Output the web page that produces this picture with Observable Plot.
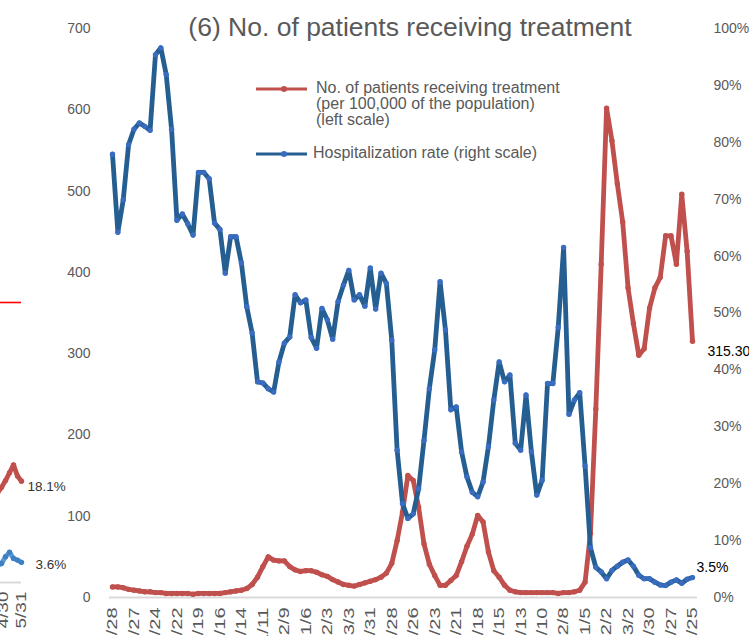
<!DOCTYPE html>
<html><head><meta charset="utf-8">
<script src="https://cdn.jsdelivr.net/npm/d3@7"></script>
<script src="https://cdn.jsdelivr.net/npm/@observablehq/plot@0.6"></script>
<style>
html,body{margin:0;padding:0;background:#fff;overflow:hidden;}
#wrap{position:relative;width:749px;height:636px;overflow:hidden;font-family:"Liberation Sans",Arial,sans-serif;color:#595959;}
#wrap svg.plotsvg{position:absolute;left:0;top:0;}
.ttl{position:absolute;left:0;width:820px;top:12px;text-align:center;font-size:26.5px;line-height:30px;white-space:nowrap;}
.lg{position:absolute;font-size:16px;line-height:16px;white-space:nowrap;}
</style></head><body><div id="wrap"></div>
<script>
// ---- main chart data (weekly) ----
const tickLabels = ["4/28","5/27","6/24","7/22","8/19","9/16","10/14","11/11","12/9","1/6","2/3","3/3","3/31","4/28","5/26","6/23","7/21","8/18","9/15","10/13","11/10","12/8","1/5","2/2","3/2","3/30","4/27","5/25"];
const patients = [13,13,12,10,9,8,7,7,6,6,5,5,5,5,5,4,5,5,5,5,5,6,7,8,9,11,16,25,38,50,
  46,45,45,38,34,32,33,33,31,28,26,22,19,16,15,14,16,18,20,22,25,30,42,70,105,150,144,111,66,41,
  27,15,15,21,27,44,63,78,101,93,56,33,25,15,9,7,6,6,6,6,6,6,6,5,6,6,7,9,19,79,
  232,410,602,562,509,462,381,337,298,306,356,381,394,445,445,410,496,426,315.30];
const hospRate = [77.9,64.2,69.9,79.6,82.3,83.4,82.8,82.1,95.4,96.6,91.9,82.3,66.3,67.4,65.7,63.7,74.7,74.7,73.6,65.8,
  64.7,57.0,63.4,63.4,58.8,51.1,46.5,37.9,37.7,36.7,36.1,41.4,44.7,45.8,53.2,51.8,52.3,45.7,43.8,50.8,
  48.8,45.4,52.0,54.9,57.5,52.3,53.2,51.2,57.9,50.7,57.0,55.2,45.2,25.9,16.5,13.9,14.7,19.1,27.6,36.7,
  43.5,55.5,47.0,33.0,33.5,25.6,21.2,18.5,17.7,20.3,26.5,34.7,41.4,37.9,39.1,27.1,25.9,35.6,25.6,18.0,
  20.6,37.6,37.6,47.5,61.5,32.2,34.7,36.0,23.1,8.75,5.3,4.5,3.3,4.75,5.5,6.2,6.6,5.5,3.9,3.3,
  3.3,2.7,2.2,2.1,2.7,3.1,2.5,3.2,3.5];
const leftTicks = [0,100,200,300,400,500,600,700];
const rightTicks = [0,10,20,30,40,50,60,70,80,90,100];

// ---- fragment of the neighbouring panel (left edge) ----
const fragDates = ["2022-04-19","2022-04-26","2022-05-03","2022-05-10","2022-05-17","2022-05-24","2022-05-31"];
const fragRed = [16.0,17.0,18.2,19.6,21.0,19.0,18.1];
const fragBlue = [3.0,3.4,4.6,5.4,4.3,4.0,3.6];
const fragLine = [50];
const fragTicks = ["2022-04-30","2022-05-31"];

const RED = "#c0504d", BLUE = "#255e91", BLUEDOT = "#3a6cc2";
const FONT = '"Liberation Sans",Arial,sans-serif';

const rows = patients.map((p, i) => ({i, red: p, blue: hospRate[i]}));
const last = rows.slice(-1);
const scaleR = 700 / 100; // right axis 0–100% shares the 0–700 frame

const main = Plot.plot({
  width: 749, height: 636,
  marginLeft: 112, marginRight: 57, marginTop: 28, marginBottom: 39,
  style: {background: "transparent", fontFamily: FONT, fontSize: "14px", color: "#595959", overflow: "hidden"},
  x: {domain: [0, patients.length - 1]},
  y: {domain: [0, 700]},
  marks: [
    Plot.ruleY([0], {stroke: "#d9d9d9", strokeWidth: 2, insetLeft: -3, insetRight: -5}),
    Plot.axisY(leftTicks, {anchor: "left", tickSize: 0, tickPadding: 22, fill: "#595959", fontSize: 14, label: null}),
    Plot.axisY(rightTicks.map(t => t * scaleR), {anchor: "right", tickSize: 0, tickPadding: 21, fill: "#595959", fontSize: 14, label: null,
      tickFormat: d => `${Math.round(d / scaleR)}%`}),
    Plot.axisX(tickLabels.map((t, k) => k * 4), {anchor: "bottom", tickSize: 0, tickPadding: 10, tickRotate: -90, fill: "#595959", fontSize: 20, label: null,
      tickFormat: d => tickLabels[Math.round(d / 4)]}),
    Plot.line(rows, {x: "i", y: "red", stroke: RED, strokeWidth: 4.8}),
    Plot.dot(rows, {x: "i", y: "red", r: 2.7, fill: RED}),
    Plot.line(rows, {x: "i", y: d => d.blue * scaleR, stroke: BLUE, strokeWidth: 4.8}),
    Plot.dot(rows, {x: "i", y: d => d.blue * scaleR, r: 2.7, fill: BLUEDOT}),
    Plot.text(last, {x: "i", y: "red", text: d => d.red.toFixed(2), dx: 15, dy: 10, textAnchor: "start", fill: "#000", fontSize: 14}),
    Plot.text(last, {x: "i", y: d => d.blue * scaleR, text: d => d.blue.toFixed(1) + "%", dx: 4, dy: -10, textAnchor: "start", fill: "#000", fontSize: 14})
  ]
});
main.classList.add("plotsvg");

const fragRows = fragDates.map((d, k) => ({date: new Date(d), red: fragRed[k], blue: fragBlue[k]}));
const fragLast = fragRows.slice(-1);
const frag = Plot.plot({
  width: 70, height: 636, marginLeft: 0, marginRight: 49, marginTop: 22, marginBottom: 54,
  style: {background: "transparent", fontFamily: FONT, fontSize: "14px", color: "#595959", overflow: "hidden"},
  x: {type: "utc", domain: [new Date("2022-04-30"), new Date("2022-05-31")], range: [3.3, 21]},
  y: {domain: [0, 100], range: [582, 22]},
  marks: [
    Plot.ruleY([0], {stroke: "#d9d9d9", strokeWidth: 2}),
    Plot.ruleY(fragLine, {stroke: "#ff0000", strokeWidth: 1.6}),
    Plot.axisX(fragTicks.map(d => new Date(d)), {anchor: "bottom", tickSize: 0, tickPadding: 9, tickRotate: -90, fill: "#595959", fontSize: 19, label: null,
      tickFormat: d3.utcFormat("%-m/%-d")}),
    Plot.line(fragRows, {x: "date", y: "red", stroke: RED, strokeWidth: 4.8}),
    Plot.dot(fragRows, {x: "date", y: "red", r: 2.7, fill: RED}),
    Plot.line(fragRows, {x: "date", y: "blue", stroke: "#5b9bd5", strokeWidth: 4.8}),
    Plot.dot(fragRows, {x: "date", y: "blue", r: 2.7, fill: "#3f7fc4"}),
    Plot.text(fragLast, {x: "date", y: "red", text: d => d.red.toFixed(1) + "%", dx: 6, dy: 6, textAnchor: "start", fill: "#333", fontSize: 13.5}),
    Plot.text(fragLast, {x: "date", y: "blue", text: d => d.blue.toFixed(1) + "%", dx: 14, dy: 2, textAnchor: "start", fill: "#333", fontSize: 13.5})
  ]
});
frag.classList.add("plotsvg");

// narrow the rotated date labels (condensed look of the original font)
for (const svg of [main, frag]) {
  svg.querySelectorAll("text").forEach(el => {
    const tr = el.getAttribute("transform");
    if (tr && tr.includes("rotate(-90)")) el.setAttribute("transform", tr + " scale(1,0.76)");
  });
}

const wrap = document.getElementById("wrap");
wrap.appendChild(frag);
wrap.appendChild(main);

// title
const t = document.createElement("div");
t.className = "ttl";
t.textContent = "(6) No. of patients receiving treatment";
wrap.appendChild(t);

// legend
const legendItems = [
  {color: RED, dot: RED, y: 89, lines: ["No. of patients receiving treatment", "(per 100,000 of the population)", "(left scale)"], tx: 316},
  {color: BLUE, dot: BLUEDOT, y: 154, lines: ["Hospitalization rate (right scale)"], tx: 313}
];
const ns = "http://www.w3.org/2000/svg";
const lsvg = document.createElementNS(ns, "svg");
lsvg.setAttribute("width", 749); lsvg.setAttribute("height", 636);
lsvg.style.position = "absolute"; lsvg.style.left = "0"; lsvg.style.top = "0";
for (const it of legendItems) {
  const ln = document.createElementNS(ns, "line");
  ln.setAttribute("x1", 256); ln.setAttribute("x2", 307); ln.setAttribute("y1", it.y); ln.setAttribute("y2", it.y);
  ln.setAttribute("stroke", it.color); ln.setAttribute("stroke-width", 3);
  lsvg.appendChild(ln);
  const c = document.createElementNS(ns, "circle");
  c.setAttribute("cx", 284); c.setAttribute("cy", it.y); c.setAttribute("r", 3); c.setAttribute("fill", it.dot);
  lsvg.appendChild(c);
  const d = document.createElement("div");
  d.className = "lg";
  d.style.left = it.tx + "px";
  d.style.top = (it.y - 9) + "px";
  d.innerHTML = it.lines.join("<br>");
  wrap.appendChild(d);
}
wrap.appendChild(lsvg);
</script>
</body></html>
